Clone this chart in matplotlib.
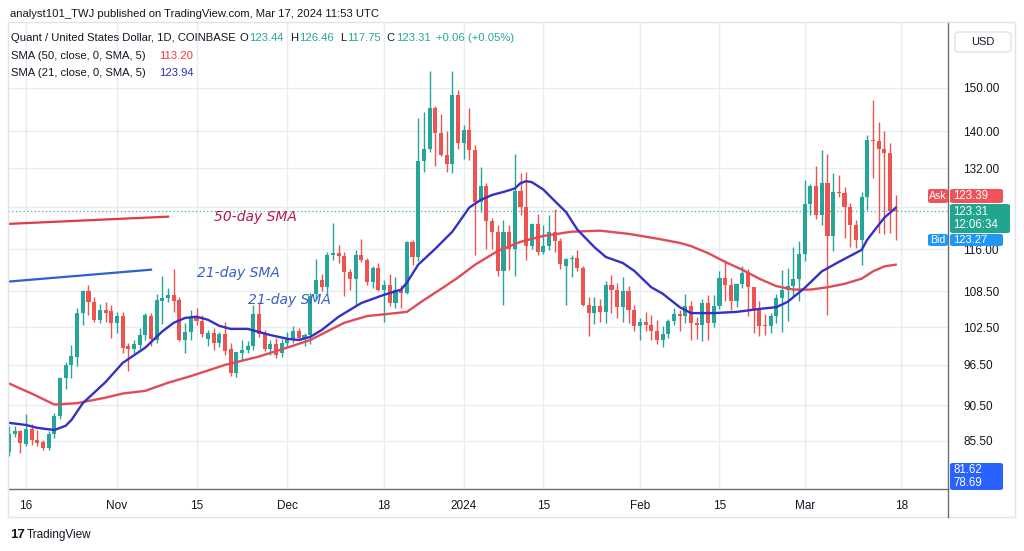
import matplotlib
matplotlib.use('Agg')
import matplotlib.pyplot as plt
import matplotlib.dates as mdates
import matplotlib.ticker as mticker
from matplotlib.patches import Rectangle, FancyBboxPatch
from matplotlib.lines import Line2D
import numpy as np
import pandas as pd

plt.rcParams['font.family'] = ['Liberation Sans', 'DejaVu Sans']

# ---------------- data (daily candles, Oct 13 2023 .. Mar 17 2024) ----------------
start_date = '2023-10-13'
opens = [84.0, 86.5, 86.8, 85.1, 87.1, 85.6, 85.3, 84.5, 86.4, 88.9,
         94.5, 96.5, 97.8, 104.8, 108.6, 106.7, 103.7, 105.4, 105.1, 103.1,
         104.3, 99.4, 98.9, 99.6, 101.2, 104.3, 100.4, 106.8, 107.4, 107.9,
         107.0, 100.4, 101.7, 104.2, 103.5, 100.6, 101.5, 100.0, 101.3, 98.9,
         95.2, 98.3, 98.8, 99.5, 104.7, 101.4, 99.0, 99.8, 98.3, 99.9,
         100.5, 101.8, 100.7, 101.2, 108.0, 110.5, 109.2, 115.0, 115.3, 114.8,
         111.9, 110.7, 115.0, 114.0, 110.1, 112.6, 108.8, 109.6, 106.5, 108.8,
         108.2, 117.4, 114.6, 133.6, 136.2, 145.2, 139.5, 134.8, 132.8, 148.3,
         137.5, 140.3, 135.9, 125.0, 128.4, 121.3, 119.3, 112.1, 119.3, 116.0,
         127.3, 124.0, 116.6, 120.8, 115.6, 116.6, 119.3, 117.6, 112.9, 114.2,
         114.5, 112.6, 106.2, 104.9, 106.0, 105.0, 109.6, 108.8, 105.8, 108.5,
         105.3, 102.6, 103.4, 102.8, 101.9, 100.4, 101.4, 103.5, 104.7, 104.3,
         106.0, 103.2, 102.9, 106.5, 103.2, 106.0, 110.9, 109.6, 106.8, 109.8,
         111.8, 109.2, 105.3, 102.7, 102.6, 104.4, 107.4, 108.8, 109.5, 110.7,
         115.2, 124.6, 128.3, 122.5, 129.0, 118.4, 127.1, 126.9, 124.0, 120.6,
         117.8, 126.1, 138.0, 137.8, 136.0, 135.2, 123.44]
highs = [87.6, 87.5, 87.0, 89.3, 87.8, 87.0, 85.6, 86.8, 89.4, 94.7,
         97.0, 99.6, 105.6, 108.8, 109.6, 107.6, 106.3, 106.7, 106.2, 105.0,
         105.0, 99.9, 100.4, 102.4, 104.9, 104.9, 108.0, 111.1, 109.1, 112.5,
         107.6, 103.2, 105.3, 105.6, 104.5, 102.0, 102.4, 101.7, 103.3, 99.9,
         96.0, 100.4, 100.2, 106.2, 106.5, 102.0, 100.4, 100.8, 100.6, 101.7,
         102.6, 102.4, 101.6, 108.2, 114.3, 111.5, 115.5, 121.0, 116.8, 115.5,
         112.4, 115.8, 118.0, 114.5, 113.0, 113.5, 110.5, 111.5, 111.0, 109.6,
         117.6, 117.8, 143.0, 144.3, 154.2, 145.8, 143.9, 140.0, 154.0, 149.5,
         141.5, 145.2, 137.0, 132.2, 129.0, 122.0, 120.6, 121.5, 120.5, 135.0,
         131.0, 131.2, 121.0, 122.8, 120.6, 122.6, 123.7, 118.2, 114.5, 115.0,
         115.8, 113.0, 107.5, 107.6, 107.2, 110.3, 111.4, 110.0, 111.0, 109.5,
         106.2, 104.0, 105.0, 104.5, 103.6, 102.7, 103.8, 105.6, 105.3, 108.0,
         106.8, 104.2, 107.2, 107.8, 107.8, 112.0, 114.1, 110.9, 110.0, 113.0,
         112.5, 109.3, 106.8, 104.6, 104.8, 108.0, 112.2, 112.6, 116.4, 117.6,
         129.5, 128.8, 132.4, 135.9, 135.0, 131.0, 130.6, 128.2, 124.8, 121.5,
         127.0, 139.1, 147.2, 142.0, 140.0, 137.4, 126.46]
lows = [83.5, 86.1, 83.9, 84.8, 85.0, 84.8, 84.3, 84.3, 85.9, 88.6,
        92.8, 94.5, 96.3, 102.9, 104.5, 103.4, 103.2, 103.4, 100.7, 101.5,
        98.4, 95.5, 98.4, 99.0, 100.4, 99.4, 100.0, 103.0, 106.7, 105.0,
        100.2, 98.4, 100.4, 102.8, 100.9, 99.5, 98.8, 99.3, 98.1, 94.8,
        94.6, 97.2, 98.3, 98.8, 100.9, 98.6, 98.0, 97.5, 97.8, 99.2,
        100.0, 100.6, 99.5, 99.8, 107.0, 108.5, 107.9, 114.0, 113.5, 107.7,
        108.8, 106.2, 113.7, 109.6, 109.0, 108.6, 103.4, 106.0, 105.7, 105.6,
        108.0, 113.2, 113.8, 131.3, 135.4, 132.4, 134.6, 131.3, 131.0, 136.1,
        133.9, 133.8, 115.0, 123.2, 116.0, 116.0, 111.2, 106.2, 112.3, 111.2,
        122.5, 114.0, 116.0, 115.0, 115.2, 115.8, 115.5, 112.5, 106.2, 111.0,
        112.0, 106.0, 101.0, 103.0, 103.3, 103.1, 104.9, 104.0, 103.3, 103.2,
        101.9, 100.4, 101.8, 100.4, 99.8, 99.3, 100.8, 102.9, 101.8, 103.2,
        100.4, 100.6, 100.2, 100.4, 102.5, 105.5, 106.8, 105.4, 105.9, 109.1,
        104.3, 101.5, 101.0, 101.2, 101.6, 103.2, 101.7, 103.5, 107.5, 106.8,
        113.8, 122.5, 121.8, 120.5, 104.5, 115.7, 126.0, 118.2, 116.4, 116.2,
        113.2, 123.5, 130.0, 119.1, 118.9, 119.0, 117.75]
closes = [86.5, 86.8, 85.2, 87.1, 85.6, 85.2, 84.5, 86.4, 88.9, 94.5,
          96.5, 97.9, 104.8, 108.6, 106.7, 103.7, 105.3, 104.8, 103.1, 104.3,
          99.1, 98.9, 99.7, 101.2, 104.5, 100.5, 107.0, 107.4, 107.9, 106.8,
          100.4, 101.7, 104.2, 103.5, 101.3, 101.5, 100.0, 101.3, 98.6, 95.2,
          98.5, 98.8, 99.5, 104.7, 101.4, 99.0, 99.8, 98.1, 99.9, 100.6,
          101.8, 100.7, 101.2, 107.7, 110.5, 109.2, 115.0, 115.3, 114.8, 111.9,
          110.7, 115.0, 114.0, 110.1, 112.6, 108.8, 109.6, 106.5, 108.8, 108.2,
          117.4, 114.6, 133.6, 136.2, 145.2, 139.5, 134.8, 132.8, 148.3, 137.5,
          140.3, 135.9, 125.0, 128.4, 121.3, 119.3, 112.1, 119.3, 116.0, 127.3,
          124.0, 116.6, 120.8, 115.6, 116.6, 119.3, 117.6, 113.3, 114.2, 114.5,
          112.6, 106.2, 104.9, 106.0, 105.0, 109.6, 108.8, 105.8, 108.5, 105.3,
          102.6, 103.4, 102.8, 101.9, 100.4, 101.4, 103.5, 104.7, 104.3, 106.0,
          103.2, 102.9, 106.5, 103.2, 106.0, 110.9, 109.6, 106.8, 109.8, 111.8,
          109.2, 105.3, 102.7, 102.6, 104.4, 107.4, 108.8, 109.5, 110.7, 115.2,
          124.6, 128.3, 122.5, 129.0, 118.4, 127.1, 126.9, 124.0, 120.6, 117.8,
          126.1, 138.0, 137.8, 136.0, 135.2, 123.25, 123.31]

# SMA readings (candle index -> value)
sma21_idx = [0, 3, 5, 8, 10, 11, 13, 17, 20, 24, 27, 29, 31, 33, 35, 37, 39, 42, 44, 46,
             49, 51, 53, 55, 58, 62, 66, 69, 70, 72, 75, 78, 81, 83, 85, 87, 89, 90, 91, 92,
             94, 96, 98, 100, 103, 105, 108, 110, 113, 115, 118, 120, 124, 128, 132, 135, 137,
             140, 143, 146, 150, 151, 153, 154, 156]
sma21_vals = [88.0, 87.7, 87.3, 87.0, 87.6, 88.4, 90.8, 93.9, 96.8, 99.2, 101.8, 103.2, 104.0, 104.2,
              103.7, 102.7, 102.2, 102.2, 101.7, 101.2, 100.6, 100.4, 100.9, 102.0, 104.2, 106.5,
              107.9, 108.8, 110.0, 113.2, 116.1, 119.3, 124.0, 125.5, 126.5, 127.1, 127.8, 128.9,
              129.3, 129.1, 127.6, 125.3, 123.1, 119.7, 116.4, 114.6, 113.5, 112.1, 109.2, 108.1,
              105.8, 104.8, 104.8, 105.0, 105.5, 105.8, 106.7, 109.1, 112.0, 113.7, 115.9, 117.8,
              120.6, 122.0, 123.94]
sma50_idx = [0, 4, 8, 12, 17, 20, 24, 28, 32, 38, 44, 50, 53, 56, 59, 63, 67, 70, 73, 76,
             79, 82, 86, 90, 94, 99, 104, 109, 114, 118, 120, 123, 126, 129, 132, 135, 138, 141,
             144, 147, 150, 152, 154, 156]
sma50_vals = [93.7, 92.2, 90.6, 90.8, 91.6, 92.2, 92.6, 93.8, 94.8, 96.5, 97.8, 99.5, 100.4, 101.8,
              103.2, 104.3, 104.7, 105.0, 107.0, 108.9, 110.9, 113.2, 115.7, 117.4, 118.5, 119.3,
              119.5, 118.9, 118.0, 117.2, 116.6, 115.3, 113.7, 112.3, 110.7, 109.4, 108.8, 108.8,
              109.2, 109.8, 110.7, 112.0, 112.9, 113.2]

# hand-drawn annotations (dates, prices)
anno_red_dates = ['2023-10-13', '2023-11-10']
anno_red_prices = [120.8, 122.2]
anno_blue_dates = ['2023-10-13', '2023-11-07']
anno_blue_prices = [110.2, 112.3]
anno_texts = ['50-day SMA', '21-day SMA', '21-day SMA']
anno_text_dates = ['2023-11-18', '2023-11-15', '2023-11-24']
anno_text_prices = [122.2, 111.8, 107.0]

price_ticks = [150, 140, 132, 124, 116, 108.5, 102.5, 96.5, 90.5, 85.5]
hidden_ticks = [124]  # covered by the price tags on the axis
date_ticks = ['2023-10-16', '2023-11-01', '2023-11-15', '2023-12-01', '2023-12-18',
              '2024-01-01', '2024-01-15', '2024-02-01', '2024-02-15', '2024-03-01', '2024-03-18']
date_labels = ['16', 'Nov', '15', 'Dec', '18', '2024', '15', 'Feb', '15', 'Mar', '18']
last_price = 123.31

# ---------------- styling ----------------
UP = '#26a69a'
DOWN = '#ef5350'
SMA50_C = '#e04b57'
SMA21_C = '#3431c4'
GRID = '#e9edf2'
TXT = '#131722'

W, H = 1024, 551
fig = plt.figure(figsize=(W / 100, H / 100), dpi=100)
fig.patch.set_facecolor('white')


def fx(px):
    return px / W


def fy(py):
    return 1 - py / H


ax = fig.add_axes([fx(8), fy(489), fx(948) - fx(8), fy(22) - fy(489)])
ax.set_facecolor('white')

dates = pd.date_range(start_date, periods=len(opens), freq='D')
o = np.array(opens)
h = np.array(highs)
l = np.array(lows)
c = np.array(closes)
up = c >= o
cols = np.where(up, UP, DOWN)

ax.set_yscale('log')
ax.set_ylim(79.2, 166.6)
xn0 = mdates.date2num(dates[0])
ax.set_xlim(xn0 - 0.16, xn0 + 165.2)

# grid
for d in date_ticks:
    ax.axvline(pd.Timestamp(d), color=GRID, lw=1, zorder=0)
for p in price_ticks:
    ax.axhline(p, color=GRID, lw=1, zorder=0)

# candles
ax.vlines(dates, l, h, colors=cols, lw=1, zorder=2)
body_bottom = np.minimum(o, c)
body_h = np.maximum(np.abs(c - o), 0.18)
ax.bar(dates, body_h, bottom=body_bottom, width=0.72, color=cols, lw=0, zorder=3)

# SMA lines
ax.plot(dates[sma50_idx], sma50_vals, color=SMA50_C, lw=1.7, zorder=4)
ax.plot(dates[sma21_idx], sma21_vals, color=SMA21_C, lw=1.7, zorder=4)

# last price dotted line
ax.axhline(last_price, color='#4fae9f', lw=0.9, ls=(0, (1, 2)), zorder=1)

# annotations
ax.plot(pd.to_datetime(anno_red_dates), anno_red_prices, color='#dc3c44', lw=1.6, zorder=5)
ax.plot(pd.to_datetime(anno_blue_dates), anno_blue_prices, color='#2f5fd0', lw=1.6, zorder=5)
anno_cols = ['#b8174e', '#3a5fc8', '#3a5fc8']
for t, d, p, cc in zip(anno_texts, anno_text_dates, anno_text_prices, anno_cols):
    ax.text(pd.Timestamp(d), p, t, color=cc, fontsize=10, style='italic',
            ha='left', va='center', zorder=6, family=['DejaVu Sans'])

# axes
ax.yaxis.tick_right()
ax.yaxis.set_minor_locator(mticker.NullLocator())
ax.set_yticks(price_ticks)
ax.set_yticklabels(['' if p in hidden_ticks else f'{p:.2f}' for p in price_ticks])
ax.tick_params(axis='y', length=0, pad=11, labelsize=8.5, labelcolor=TXT)
ax.set_xticks([pd.Timestamp(d) for d in date_ticks])
ax.set_xticklabels(date_labels)
ax.tick_params(axis='x', length=0, pad=8, labelsize=8.5, labelcolor=TXT)
for s in ['left', 'top']:
    ax.spines[s].set_visible(False)
ax.spines['right'].set_color('#6a6d78')
ax.spines['bottom'].set_color('#6a6d78')
ax.spines['right'].set_linewidth(1)
ax.spines['bottom'].set_linewidth(1)

# outer frame and axis separator
fig.patches.append(Rectangle((fx(8), fy(517)), fx(1015) - fx(8), fy(22) - fy(517),
                             transform=fig.transFigure, fill=False, edgecolor='#e0e3eb', lw=1))
fig.lines.append(Line2D([fx(948), fx(948)], [fy(489), fy(517)], transform=fig.transFigure,
                        color='#6a6d78', lw=1))

renderer = fig.canvas.get_renderer()


def seq_text(parts, x, y, size):
    for t, col, gap in parts:
        tx = fig.text(fx(x), fy(y), t, fontsize=size, color=col, va='center', ha='left')
        bb = tx.get_window_extent(renderer)
        x = bb.x1 + gap


# header texts
fig.text(fx(10), fy(14), 'analyst101_TWJ published on TradingView.com, Mar 17, 2024 11:53 UTC',
         fontsize=8.1, color=TXT, va='center', ha='left')
seq_text([('Quant / United States Dollar, 1D, COINBASE', TXT, 4), ('O', TXT, 1),
          ('123.44', UP, 6), ('H', TXT, 1), ('126.46', UP, 6), ('L', TXT, 1),
          ('117.75', UP, 6), ('C', TXT, 1), ('123.31', UP, 5), ('+0.06 (+0.05%)', UP, 0)],
         11, 38, 8.1)
seq_text([('SMA (50, close, 0, SMA, 5)', TXT, 13), ('113.20', '#f23645', 0)], 11, 56, 8.1)
seq_text([('SMA (21, close, 0, SMA, 5)', TXT, 13), ('123.94', '#2f2dbf', 0)], 11, 73, 8.1)


# axis tags as boxes with exact pixel extents
def tag_box(x0, y0, x1, y1, color, text, tx=None, ha='center', ls=1.15, size=8.3):
    fig.patches.append(FancyBboxPatch((fx(x0), fy(y1)), fx(x1) - fx(x0), fy(y0) - fy(y1),
                                      boxstyle='round,pad=0,rounding_size=0.003',
                                      transform=fig.transFigure, fc=color, ec='none', zorder=2))
    xt = (x0 + x1) / 2 if tx is None else tx
    fig.text(fx(xt), fy((y0 + y1) / 2), text, fontsize=size, color='white', ha=ha,
             va='center', linespacing=ls, zorder=4)


fig.patches.append(FancyBboxPatch((fx(955), fy(52)), fx(1011) - fx(955), fy(32) - fy(52),
                                  boxstyle='round,pad=0,rounding_size=0.005',
                                  transform=fig.transFigure, fc='white', ec='#e0e3eb', lw=1))
fig.text(fx(983), fy(42), 'USD', fontsize=8, color=TXT, ha='center', va='center')

tag_box(928, 189, 948, 203, '#f0545a', 'Ask', size=7.6)
tag_box(950, 189, 1003, 203, '#f0545a', '123.39', tx=953, ha='left')
tag_box(950, 204, 1010, 233, '#22a58f', '123.31\n12:06:34', tx=953, ha='left')
tag_box(928, 234, 948, 246, '#2196f3', 'Bid', size=7.6)
tag_box(950, 234, 1003, 246, '#2196f3', '123.27', tx=953, ha='left', size=8.0)
tag_box(950, 463, 1003, 490, '#2962ff', '81.62\n78.69', tx=953, ha='left', ls=1.05)

# logo
fig.text(fx(10), fy(535), '17', fontsize=9.5, weight='bold', color=TXT, va='center')
fig.text(fx(27), fy(535), 'TradingView', fontsize=8.5, color=TXT, va='center')

fig.savefig('out.png', dpi=100)
